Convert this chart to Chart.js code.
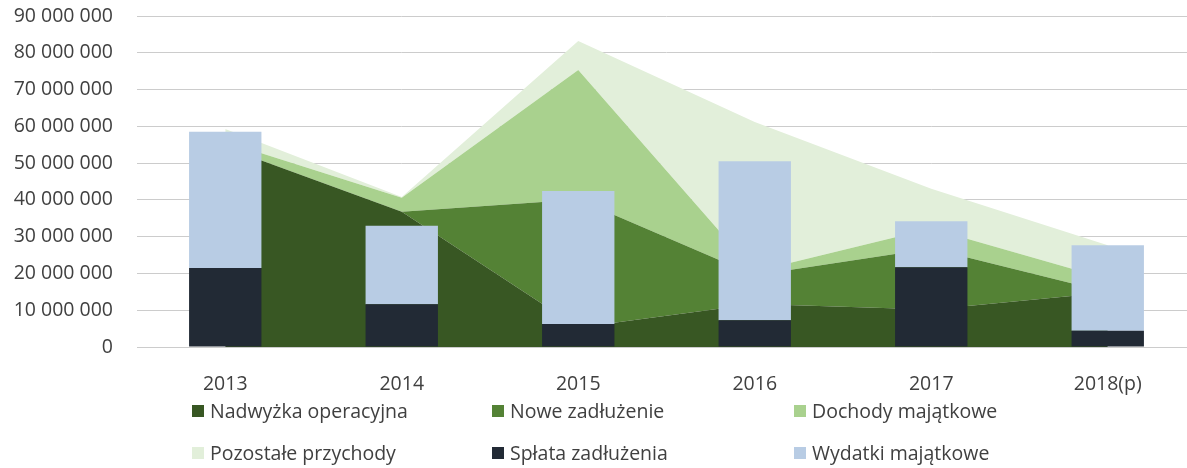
<!DOCTYPE html>
<html>
<head>
<meta charset="utf-8">
<script src="https://cdn.jsdelivr.net/npm/chart.js@4/dist/chart.umd.min.js"></script>
<style>
  html, body { margin: 0; padding: 0; background: #fff; overflow: hidden; }
  #wrap { width: 1196px; height: 468px; }
</style>
</head>
<body>
<div id="wrap"><canvas id="c" width="1196" height="468"></canvas></div>
<script>
const categories = ['2013', '2014', '2015', '2016', '2017', '2018(p)'];
const nadwyzka  = [54300000, 36800000, 5300000, 11700000, 10200000, 14800000];
const noweZadl  = [0, 0, 34800000, 7800000, 16600000, 100000];
const dochodyM  = [1500000, 3800000, 35200000, 1000000, 5400000, 3600000];
const pozostale = [3500000, 200000, 7900000, 40700000, 10800000, 9200000];
const splata    = [21500000, 11600000, 6250000, 7300000, 21700000, 4400000];
const wydatki   = [37000000, 21400000, 36150000, 43200000, 12500000, 23300000];
const yTicks    = [0, 10000000, 20000000, 30000000, 40000000, 50000000, 60000000, 70000000, 80000000, 90000000];

const FONT = '"Open Sans", "Segoe UI", sans-serif';
const TXT = '#404040';

function fmt(v) { return String(v).replace(/\B(?=(\d{3})+(?!\d))/g, ' '); }

function area(label, data, color, fill) {
  return { type: 'line', label, data, backgroundColor: color, borderColor: color, borderWidth: 0,
           pointRadius: 0, fill, stack: 'areas', order: 1, tension: 0 };
}
function bar(label, data, color) {
  return { type: 'bar', label, data, backgroundColor: color, borderWidth: 0,
           stack: 'bars', order: 0, barPercentage: 0.41, categoryPercentage: 1 };
}

const legendPlugin = {
  id: 'gridLegend',
  afterDraw(chart) {
    const ctx = chart.ctx;
    const cols = [192, 492, 794];
    const rows = [411, 453];
    ctx.save();
    ctx.font = '19.5px ' + FONT;
    ctx.textBaseline = 'middle';
    ctx.textAlign = 'left';
    chart.data.datasets.forEach((ds, i) => {
      const x = cols[i % 3], y = rows[Math.floor(i / 3)];
      ctx.fillStyle = ds.backgroundColor;
      ctx.fillRect(x, y - 6, 12, 12);
      ctx.fillStyle = TXT;
      ctx.fillText(ds.label, x + 18, y + 1);
    });
    ctx.restore();
  }
};

new Chart(document.getElementById('c'), {
  type: 'bar',
  data: {
    labels: categories,
    datasets: [
      area('Nadwyżka operacyjna', nadwyzka, '#385723', 'origin'),
      area('Nowe zadłużenie', noweZadl, '#548235', '-1'),
      area('Dochody majątkowe', dochodyM, '#A9D18E', '-1'),
      area('Pozostałe przychody', pozostale, '#E2EFDA', '-1'),
      bar('Spłata zadłużenia', splata, '#222A35'),
      bar('Wydatki majątkowe', wydatki, '#B8CCE4')
    ]
  },
  options: {
    responsive: false,
    animation: false,
    layout: { padding: { top: 16, left: 0, right: 0, bottom: 0 } },
    plugins: { legend: { display: false }, tooltip: { enabled: false } },
    scales: {
      x: {
        stacked: true,
        offset: true,
        z: 1,
        grid: { display: false },
        border: { display: true, color: '#cccccc', width: 1 },
        ticks: { color: TXT, font: { family: FONT, size: 19.5 }, padding: 18, maxRotation: 0 },
        afterFit(s) { s.height = 121; s.paddingLeft = 0; s.paddingRight = 0; }
      },
      y: {
        stacked: true,
        min: 0, max: 90000000,
        afterBuildTicks(s) { s.ticks = yTicks.map(v => ({ value: v })); },
        grid: { color: '#cccccc', lineWidth: 1, drawTicks: false },
        border: { display: false },
        ticks: { color: TXT, font: { family: FONT, size: 19.5 }, padding: 24, callback: v => fmt(v) },
        afterFit(s) { s.width = 137; s.paddingTop = 0; s.paddingBottom = 0; }
      }
    }
  },
  plugins: [legendPlugin]
});
</script>
</body>
</html>
